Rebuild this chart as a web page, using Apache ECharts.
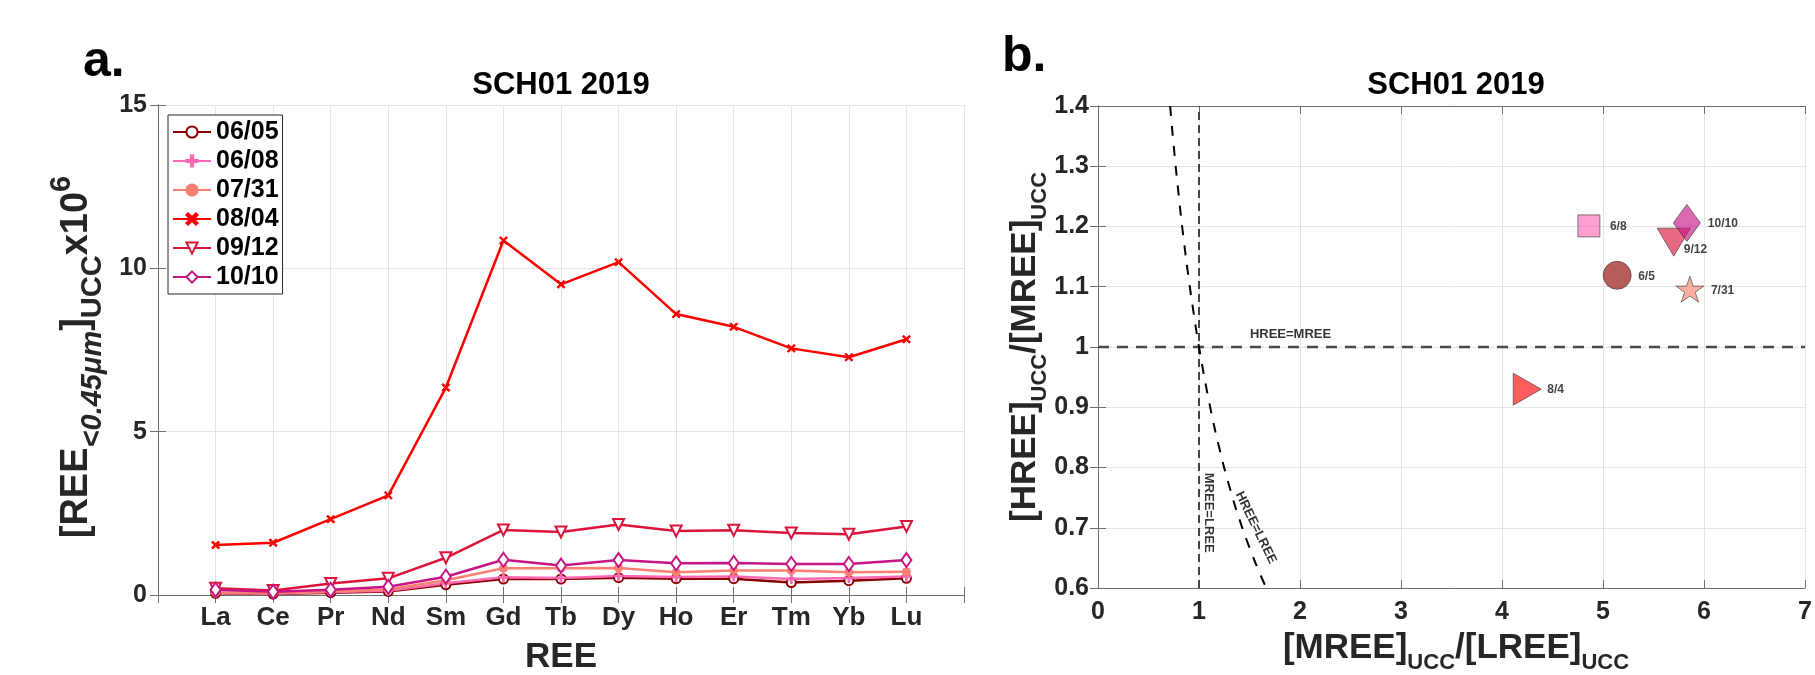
<!DOCTYPE html>
<html>
<head>
    <meta charset="utf-8">
    <title>SCH01 2019</title>
    <script src="https://cdn.jsdelivr.net/npm/echarts@6/dist/echarts.min.js"></script>
    <style>
        * {
            margin: 0;
            padding: 0
        }

        html, body {
            width: 100%;
            height: 100%;
            background: #fff;
        }

        #main {
            width: 1815px;
            height: 675px;
        }
    </style>
</head>
<body>
<div id="main"></div>
<script type="text/javascript">
    /*-------------------- data --------------------*/
    var REE = ['La', 'Ce', 'Pr', 'Nd', 'Sm', 'Gd', 'Tb', 'Dy', 'Ho', 'Er', 'Tm', 'Yb', 'Lu'];
    var sampleNames = ['06/05', '06/08', '07/31', '08/04', '09/12', '10/10'];

    var d0605 = [0.05, 0.03, 0.07, 0.11, 0.31, 0.49, 0.49, 0.53, 0.50, 0.50, 0.38, 0.44, 0.51];
    var d0608 = [0.06, 0.04, 0.09, 0.13, 0.36, 0.54, 0.52, 0.58, 0.55, 0.57, 0.49, 0.52, 0.57];
    var d0731 = [0.08, 0.05, 0.11, 0.17, 0.45, 0.82, 0.82, 0.83, 0.70, 0.75, 0.75, 0.70, 0.71];
    var d0804 = [1.53, 1.60, 2.32, 3.05, 6.35, 10.85, 9.51, 10.19, 8.60, 8.21, 7.55, 7.28, 7.83];
    var d0912 = [0.21, 0.14, 0.35, 0.51, 1.14, 1.99, 1.93, 2.16, 1.96, 1.98, 1.90, 1.86, 2.10];
    var d1010 = [0.16, 0.10, 0.16, 0.25, 0.56, 1.08, 0.90, 1.07, 0.97, 0.98, 0.95, 0.95, 1.07];

    // panel b: ratios
    var ratioLabels = ['6/5', '6/8', '7/31', '8/4', '9/12', '10/10'];
    var mreeLree = [5.14, 4.86, 5.86, 4.25, 5.70, 5.83];   // x
    var hreeMree = [1.119, 1.201, 1.096, 0.93, 1.174, 1.206]; // y

    // HREE=LREE curve
    var curveX = [0.714, 0.75, 0.8, 0.85, 0.9, 0.95, 1.0, 1.1, 1.2, 1.3, 1.4, 1.5, 1.6, 1.667];
    var curveY = [1.4, 1.333, 1.25, 1.176, 1.111, 1.053, 1.0, 0.909, 0.833, 0.769, 0.714, 0.667, 0.625, 0.6];

    var yTicksA = [0, 15, 5];      // min, max, step
    var yTicksB = [0.6, 1.4, 0.1];
    var xTicksB = [0, 7, 1];

    /*-------------------- style --------------------*/
    var FONT = "'Liberation Sans', Arial, Helvetica, sans-serif";
    var TXT = '#262626';
    var AXC = '#6e6e6e';
    var GRIDC = '#e4e4e4';

    var plusPath = 'path://M4,0H6V4H10V6H6V10H4V6H0V4H4Z';
    var crossPath = 'path://M0,1.5L1.5,0L5,3.5L8.5,0L10,1.5L6.5,5L10,8.5L8.5,10L5,6.5L1.5,10L0,8.5L3.5,5Z';
    var downTri = 'path://M0,0L10,0L5,10Z';
    var rightTri = 'path://M0,0L10,5L0,10Z';
    var starPath = 'path://M50,0L61.2,34.6L97.6,34.5L68.1,55.9L79.4,90.5L50,69L20.6,90.5L31.9,55.9L2.4,34.5L38.8,34.6Z';

    var lineSeriesDef = [
        {data: d0605, color: '#8B0000', symbol: 'emptyCircle', size: 9, bw: 2.5},
        {data: d0608, color: '#FF69B4', symbol: plusPath, size: 9, bw: 1},
        {data: d0731, color: '#FA8072', symbol: 'circle', size: 8, bw: 1},
        {data: d0804, color: '#FF0000', symbol: crossPath, size: 8, bw: 1},
        {data: d0912, color: '#DC143C', symbol: 'emptyTriangle', size: 11, rotate: 180, bw: 3.2},
        {data: d1010, color: '#C71585', symbol: 'emptyDiamond', size: [10, 14], bw: 2.5}
    ];

    var scatterStyle = [
        {color: 'rgba(160,40,40,0.95)', symbol: 'circle', size: 28, off: [21, 1]},
        {color: 'rgba(255,105,180,0.8)', symbol: 'rect', size: 22, off: [21, 1]},
        {color: 'rgba(250,128,114,0.8)', symbol: starPath, size: [28, 26], off: [21, 2]},
        {color: 'rgba(255,0,0,0.8)', symbol: rightTri, size: [28, 32], off: [20, 1]},
        {color: 'rgba(220,20,60,0.8)', symbol: downTri, size: [33, 28], off: [10, 8]},
        {color: 'rgba(199,21,133,0.8)', symbol: 'diamond', size: [27, 37], off: [21, 1]}
    ];

    function tickLabel(size) {
        return {fontSize: size, fontWeight: 'bold', color: TXT, fontFamily: FONT};
    }

    function frameAxis(grid, pos, min, max, step) {
        return {
            type: 'value', gridIndex: grid, position: pos, min: min, max: max, interval: step,
            axisLine: {show: true, lineStyle: {color: AXC, width: 1}},
            axisTick: {show: true, inside: true, length: 8, lineStyle: {color: AXC}},
            axisLabel: {show: false},
            splitLine: {show: false}
        };
    }

    var series = [];
    lineSeriesDef.forEach(function (s, k) {
        series.push({
            name: sampleNames[k],
            type: 'line',
            xAxisIndex: 0, yAxisIndex: 0,
            data: s.data.map(function (v, i) { return [i + 1, v]; }),
            symbol: s.symbol,
            symbolSize: s.size,
            symbolRotate: s.rotate || 0,
            showAllSymbol: true,
            color: s.color,
            lineStyle: {width: 2.5, color: s.color},
            itemStyle: {color: s.color, borderColor: s.color, borderWidth: s.bw},
            emphasis: {disabled: true}
        });
    });

    // reference lines panel b
    series.push({
        type: 'line', xAxisIndex: 2, yAxisIndex: 2, silent: true, symbol: 'none',
        data: [[0, 1], [7, 1]],
        lineStyle: {color: '#4a4a4a', width: 2.4, type: [11, 8]}
    });
    series.push({
        type: 'line', xAxisIndex: 2, yAxisIndex: 2, silent: true, symbol: 'none',
        data: [[1, 0.6], [1, 1.4]],
        lineStyle: {color: '#444', width: 2, type: [8, 5]}
    });
    series.push({
        type: 'line', xAxisIndex: 2, yAxisIndex: 2, silent: true, symbol: 'none', smooth: true,
        data: curveX.map(function (x, i) { return [x, curveY[i]]; }),
        lineStyle: {color: '#000', width: 2, type: [10, 10]}
    });
    // reference line captions, placed in data coordinates
    var refCaps = [
        {name: 'HREE=MREE', value: [1.906, 1.021], rot: 0},
        {name: 'MREE=LREE', value: [1.095, 0.725], rot: -90},
        {name: 'HREE=LREE', value: [1.562, 0.70], rot: -64}
    ];
    refCaps.forEach(function (c) {
        series.push({
            type: 'scatter', xAxisIndex: 2, yAxisIndex: 2, silent: true,
            symbolSize: 0,
            data: [{name: c.name, value: c.value}],
            label: {
                show: true, position: 'inside', formatter: '{b}', rotate: c.rot,
                fontSize: 13, fontWeight: 'bold', color: '#000', fontFamily: FONT
            }
        });
    });

    ratioLabels.forEach(function (lab, k) {
        var st = scatterStyle[k];
        series.push({
            name: lab,
            type: 'scatter',
            xAxisIndex: 2, yAxisIndex: 2,
            symbol: st.symbol,
            symbolSize: st.size,
            data: [{name: lab, value: [mreeLree[k], hreeMree[k]]}],
            itemStyle: {color: st.color, borderColor: '#3a3a3a', borderWidth: 0.8},
            label: {
                show: true, position: 'inside', align: 'left', verticalAlign: 'middle',
                offset: st.off, formatter: '{b}',
                fontSize: 12, fontWeight: 'bold', color: '#111', fontFamily: FONT
            },
            emphasis: {disabled: true}
        });
    });

    // rich styles for labels with sub/superscripts
    var richB = {
        m: {fontSize: 35, fontWeight: 'bold', fill: TXT, fontFamily: FONT, lineHeight: 52},
        s: {fontSize: 22, fontWeight: 'bold', fill: TXT, fontFamily: FONT, verticalAlign: 'bottom'}
    };
    var richA = {
        m: {fontSize: 38, fontWeight: 'bold', fill: TXT, fontFamily: FONT, lineHeight: 60},
        s: {fontSize: 29, fontWeight: 'bold', fill: TXT, fontFamily: FONT, verticalAlign: 'bottom'},
        p: {fontSize: 29, fontWeight: 'bold', fill: TXT, fontFamily: FONT, verticalAlign: 'top'},
        i: {fontSize: 29, fontWeight: 'bold', fontStyle: 'italic', fill: TXT, fontFamily: FONT, verticalAlign: 'bottom'}
    };

    var myChart = echarts.init(document.getElementById('main'), null, {renderer: 'canvas'});
    myChart.setOption({
        backgroundColor: '#fff',
        animation: false,
        textStyle: {fontFamily: FONT},
        grid: [
            {left: 158, top: 105, right: 851, bottom: 80, containLabel: false},
            {left: 1098, top: 106, right: 1, bottom: 87, containLabel: false}
        ],
        legend: {
            data: sampleNames,
            orient: 'vertical',
            left: 168, top: 115,
            padding: [4.5, 4, 4.5, 4],
            itemGap: 4,
            itemWidth: 38, itemHeight: 14,
            backgroundColor: '#fff',
            borderColor: '#262626', borderWidth: 1, borderRadius: 0,
            textStyle: {fontSize: 25, fontWeight: 'bold', color: '#000', fontFamily: FONT},
            selectedMode: false
        },
        xAxis: [
            {
                type: 'value', gridIndex: 0, position: 'bottom', min: 0, max: 14, interval: 1,
                axisLine: {show: true, lineStyle: {color: AXC}},
                axisTick: {show: true, inside: true, length: 8, lineStyle: {color: AXC}},
                axisLabel: Object.assign(tickLabel(26), {
                    margin: 10,
                    formatter: function (v) { return REE[v - 1] || ''; }
                }),
                splitLine: {show: true, lineStyle: {color: GRIDC}}
            },
            frameAxis(0, 'top', 0, 14, 1),
            {
                type: 'value', gridIndex: 1, position: 'bottom', min: xTicksB[0], max: xTicksB[1], interval: xTicksB[2],
                axisLine: {show: true, lineStyle: {color: AXC}},
                axisTick: {show: true, inside: true, length: 8, lineStyle: {color: AXC}},
                axisLabel: Object.assign(tickLabel(25), {margin: 12, showMaxLabel: true}),
                splitLine: {show: true, lineStyle: {color: GRIDC}}
            },
            frameAxis(1, 'top', xTicksB[0], xTicksB[1], xTicksB[2])
        ],
        yAxis: [
            {
                type: 'value', gridIndex: 0, position: 'left', min: yTicksA[0], max: yTicksA[1], interval: yTicksA[2],
                axisLine: {show: true, lineStyle: {color: AXC}},
                axisTick: {show: true, inside: true, length: 8, lineStyle: {color: AXC}},
                axisLabel: Object.assign(tickLabel(25), {margin: 11}),
                splitLine: {show: true, lineStyle: {color: GRIDC}}
            },
            frameAxis(0, 'right', yTicksA[0], yTicksA[1], yTicksA[2]),
            {
                type: 'value', gridIndex: 1, position: 'left', min: yTicksB[0], max: yTicksB[1], interval: yTicksB[2],
                axisLine: {show: true, lineStyle: {color: AXC}},
                axisTick: {show: true, inside: true, length: 8, lineStyle: {color: AXC}},
                axisLabel: Object.assign(tickLabel(25), {
                    margin: 9,
                    formatter: function (v) { return String(+v.toFixed(1)); }
                }),
                splitLine: {show: true, lineStyle: {color: GRIDC}}
            },
            frameAxis(1, 'right', yTicksB[0], yTicksB[1], yTicksB[2])
        ],
        graphic: [
            {type: 'text', x: 83, y: 62, style: {text: 'a.', fontSize: 50, fontWeight: 'bold', fontFamily: FONT, fill: '#000', align: 'left', verticalAlign: 'middle'}},
            {type: 'text', x: 1002, y: 57, style: {text: 'b.', fontSize: 50, fontWeight: 'bold', fontFamily: FONT, fill: '#000', align: 'left', verticalAlign: 'middle'}},
            {type: 'text', x: 561, y: 85, style: {text: 'SCH01 2019', fontSize: 31, fontWeight: 'bold', fontFamily: FONT, fill: '#000', align: 'center', verticalAlign: 'middle'}},
            {type: 'text', x: 1456, y: 85, style: {text: 'SCH01 2019', fontSize: 31, fontWeight: 'bold', fontFamily: FONT, fill: '#000', align: 'center', verticalAlign: 'middle'}},
            {type: 'text', x: 561, y: 657, style: {text: 'REE', fontSize: 35, fontWeight: 'bold', fontFamily: FONT, fill: TXT, align: 'center', verticalAlign: 'middle'}},
            {
                type: 'text', x: 77, y: 357, rotation: Math.PI / 2,
                style: {
                    text: '{m|[REE}{i|<0.45μm}{m|]}{s|UCC}{m|x10}{p|6}',
                    rich: richA, align: 'center', verticalAlign: 'middle'
                }
            },
            {
                type: 'text', x: 1025, y: 347, rotation: Math.PI / 2,
                style: {
                    text: '{m|[HREE]}{s|UCC}{m|/[MREE]}{s|UCC}',
                    rich: richB, align: 'center', verticalAlign: 'middle'
                }
            },
            {
                type: 'text', x: 1456, y: 648,
                style: {
                    text: '{m|[MREE]}{s|UCC}{m|/[LREE]}{s|UCC}',
                    rich: richB, align: 'center', verticalAlign: 'middle'
                }
            }
        ],
        series: series
    });
</script>
</body>
</html>
